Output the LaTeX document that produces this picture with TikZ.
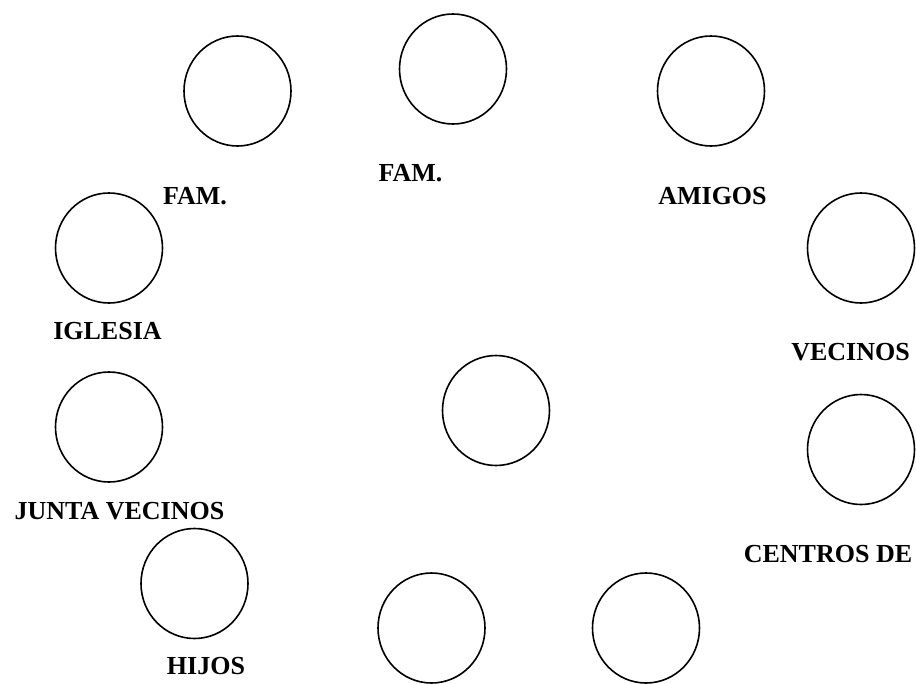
\documentclass[tikz,border=0pt]{standalone}
\usepackage{fontspec}
\setmainfont{Liberation Serif}
\usetikzlibrary{shapes.geometric}
\begin{document}
\begin{tikzpicture}[x=1pt,y=-1pt,
  ring/.style={ellipse,draw=black,line width=1.6pt,minimum width=107pt,minimum height=110pt,inner sep=0pt},
  tag/.style={anchor=base,inner sep=0pt,font=\fontsize{26}{30}\selectfont\bfseries}]
  \useasboundingbox (0,0) rectangle (916,683);
  % network circles
  \node[ring] (famA)    at (237.5,91)  {};
  \node[ring] (famB)    at (453,69)    {};
  \node[ring] (amigos)  at (711,91)    {};
  \node[ring] (iglesia) at (109,248)   {};
  \node[ring] (vecinos) at (861,248)   {};
  \node[ring] (ego)     at (496,410.5) {};
  \node[ring] (junta)   at (109,427)   {};
  \node[ring] (centros) at (861,449.5) {};
  \node[ring] (hijos)   at (194.5,583.5) {};
  \node[ring] (otroA)   at (431.5,628) {};
  \node[ring] (otroB)   at (646,628)   {};
  % labels
  \node[tag] (tFamA)    at (195,204.5)   {FAM.};
  \node[tag] (tFamB)    at (410.5,181.5) {FAM.};
  \node[tag] (tAmigos)  at (712.5,204.5) {AMIGOS};
  \node[tag] (tIglesia) at (107.5,339.5) {IGLESIA};
  \node[tag] (tVecinos) at (850.5,360.5) {VECINOS};
  \node[tag] (tJunta)   at (119.5,519.5) {JUNTA VECINOS};
  \node[tag] (tCentros) at (828,562.5)   {CENTROS DE};
  \node[tag] (tHijos)   at (206,674.5)   {HIJOS};
\end{tikzpicture}
\end{document}
